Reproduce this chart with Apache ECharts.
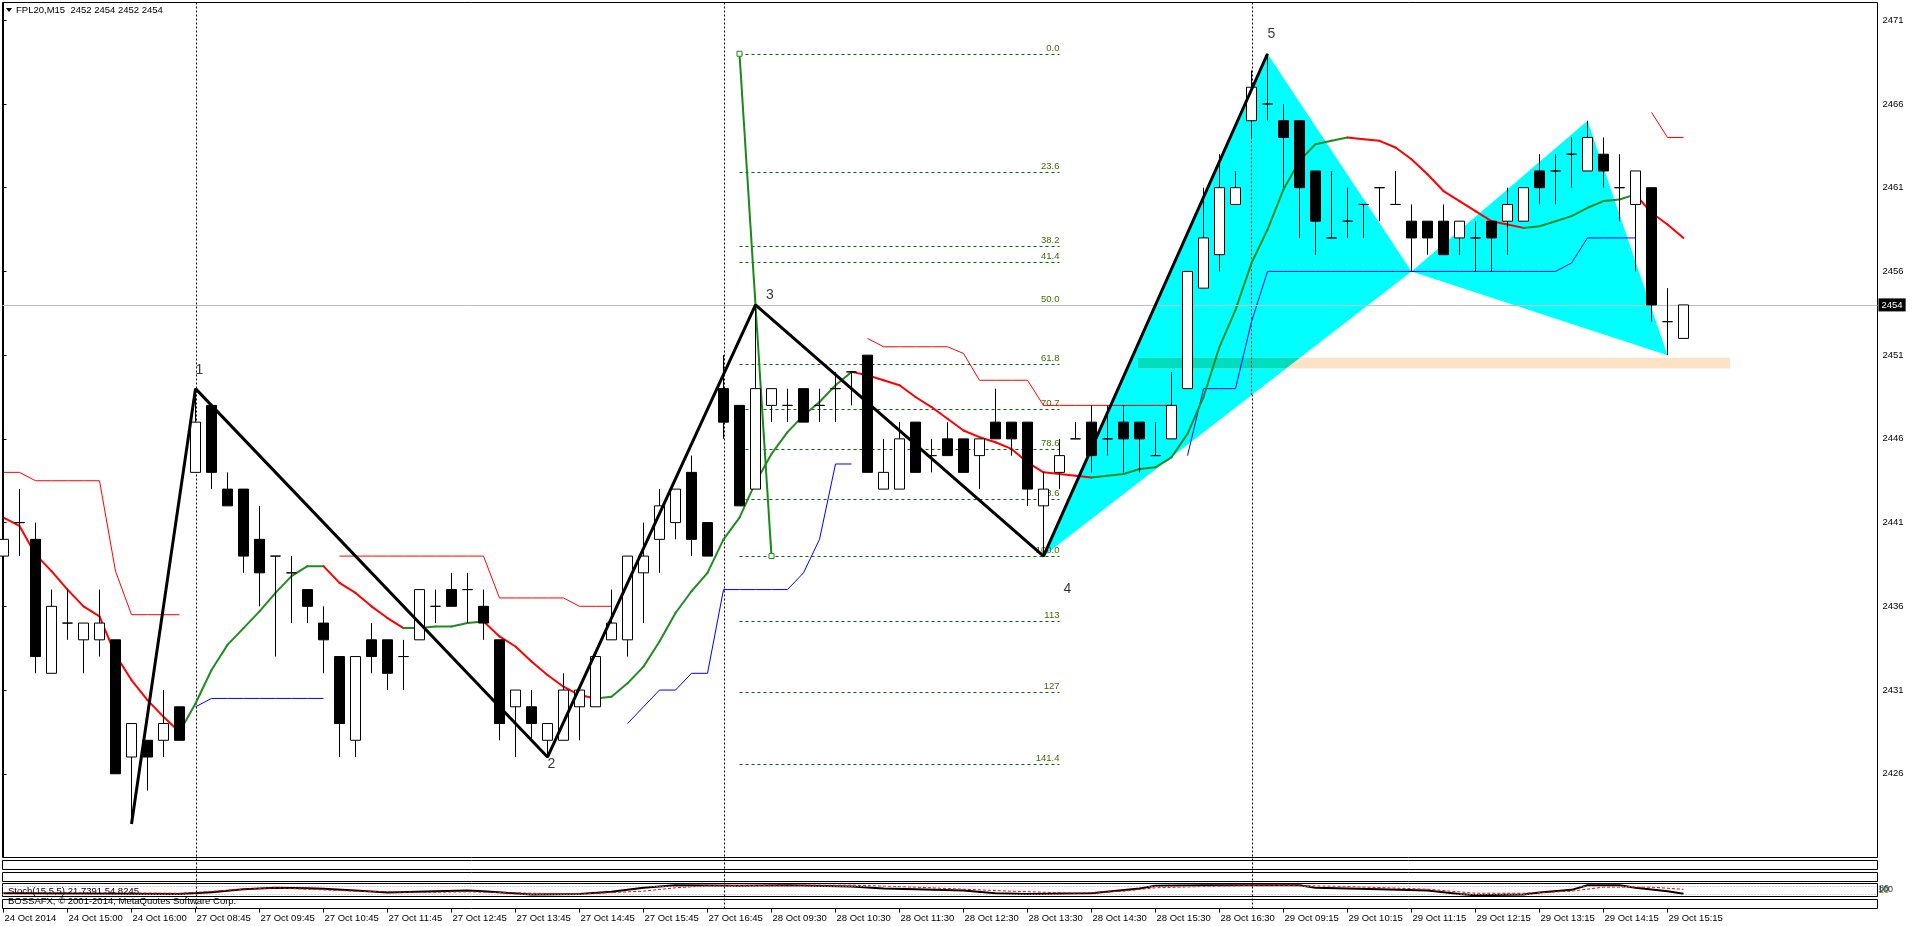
<!DOCTYPE html>
<html>
<head>
<meta charset="utf-8">
<title>FPL20,M15</title>
<script src="https://cdn.jsdelivr.net/npm/echarts@6/dist/echarts.min.js"></script>
<style>
  html, body { margin: 0; padding: 0; background: #fff; }
  #chart { width: 1916px; height: 926px; }
</style>
</head>
<body>
<div id="chart"></div>
<script>
// one entry per M15 bar, bar index = position in the array
var opens = [
  2439, 2441, 2440, 2432, 2435, 2434, 2434, 2434, 2427, 2428,
  2428, 2430, 2444, 2448, 2443, 2443, 2440, 2439, 2438, 2437,
  2435, 2433, 2428, 2434, 2434, 2433, 2434, 2436, 2437, 2437,
  2436, 2434, 2430, 2430, 2428, 2428, 2430, 2430, 2434, 2434,
  2438, 2440, 2441, 2444, 2441, 2449, 2448, 2443, 2448, 2448,
  2449, 2448, 2449, 2450, 2451, 2443, 2443, 2447, 2445, 2446,
  2446, 2445, 2447, 2447, 2447, 2442, 2444, 2446, 2447, 2446,
  2447, 2447, 2445, 2446, 2449, 2455, 2457, 2460, 2465, 2466,
  2465, 2465, 2462, 2458, 2459, 2460, 2461, 2460, 2459, 2459,
  2459, 2458, 2458, 2459, 2459, 2459, 2462, 2462, 2463, 2462,
  2463, 2461, 2460, 2461, 2453, 2452
];
var highs = [
  2443, 2443, 2441, 2437, 2437, 2435, 2437, 2434, 2429, 2428,
  2431, 2430, 2449, 2448, 2444, 2443, 2442, 2439, 2439, 2437,
  2436, 2433, 2433, 2435, 2434, 2434, 2437, 2437, 2438, 2438,
  2437, 2434, 2431, 2431, 2429, 2432, 2431, 2433, 2437, 2439,
  2441, 2443, 2443, 2445, 2441, 2451, 2448, 2454, 2449, 2449,
  2449, 2449, 2450, 2450, 2451, 2446, 2447, 2447, 2446, 2447,
  2446, 2446, 2449, 2447, 2447, 2444, 2446, 2447, 2448, 2448,
  2448, 2447, 2447, 2450, 2456, 2461, 2463, 2462, 2468, 2469,
  2466, 2465, 2462, 2462, 2461, 2460, 2461, 2462, 2460, 2459,
  2460, 2459, 2459, 2459, 2461, 2461, 2463, 2463, 2464, 2465,
  2464, 2463, 2462, 2461, 2455, 2454
];
var lows = [
  2438, 2439, 2432, 2432, 2434, 2432, 2433, 2426, 2423, 2425,
  2427, 2428, 2444, 2443, 2442, 2438, 2436, 2433, 2435, 2435,
  2432, 2427, 2427, 2432, 2431, 2431, 2434, 2435, 2436, 2435,
  2434, 2428, 2427, 2428, 2427, 2428, 2428, 2430, 2434, 2433,
  2435, 2438, 2440, 2439, 2439, 2446, 2442, 2443, 2447, 2447,
  2447, 2447, 2447, 2448, 2444, 2443, 2443, 2444, 2444, 2445,
  2444, 2443, 2446, 2445, 2442, 2439, 2443, 2446, 2444, 2445,
  2444, 2444, 2445, 2446, 2449, 2455, 2456, 2460, 2464, 2465,
  2461, 2458, 2457, 2458, 2458, 2458, 2459, 2460, 2456, 2457,
  2457, 2457, 2456, 2456, 2457, 2459, 2460, 2460, 2461, 2462,
  2461, 2459, 2456, 2453, 2451, 2452
];
var closes = [
  2440, 2441, 2433, 2436, 2435, 2435, 2435, 2426, 2429, 2427,
  2429, 2428, 2447, 2444, 2442, 2439, 2438, 2439, 2438, 2436,
  2434, 2429, 2433, 2433, 2432, 2433, 2437, 2436, 2436, 2437,
  2435, 2429, 2431, 2429, 2429, 2431, 2431, 2433, 2435, 2439,
  2439, 2442, 2443, 2440, 2439, 2447, 2442, 2449, 2449, 2448,
  2447, 2448, 2449, 2450, 2444, 2444, 2446, 2444, 2445, 2445,
  2444, 2446, 2446, 2446, 2443, 2443, 2445, 2446, 2445, 2446,
  2446, 2446, 2445, 2448, 2456, 2458, 2461, 2461, 2467, 2466,
  2464, 2461, 2459, 2458, 2459, 2460, 2461, 2460, 2458, 2458,
  2457, 2459, 2458, 2458, 2460, 2461, 2461, 2462, 2463, 2464,
  2462, 2461, 2462, 2454, 2453, 2454
];

// thick moving average, green while rising, red while falling
var maLine = [
  2441.3, 2440.8, 2439.1, 2438.1, 2437.0, 2436.0, 2435.4, 2433.1, 2431.6, 2430.4,
  2429.4, 2428.5, 2430.2, 2432.2, 2433.7, 2434.7, 2435.7, 2436.8, 2437.8, 2438.4,
  2438.4, 2437.4, 2436.8, 2436.0, 2435.3, 2434.7, 2434.7, 2434.8, 2434.8, 2435.0,
  2435.1, 2434.2, 2433.6, 2432.7, 2431.9, 2431.2, 2430.7, 2430.5, 2430.6, 2431.4,
  2432.4, 2433.9, 2435.6, 2436.9, 2438.0, 2440.0, 2441.3, 2443.4, 2445.1, 2446.4,
  2447.4, 2448.2, 2449.2, 2450.0, 2449.8, 2449.5, 2449.2, 2448.5, 2447.9, 2447.2,
  2446.5, 2446.1, 2445.8, 2445.4, 2444.6, 2444.0, 2443.9, 2443.8, 2443.7, 2443.8,
  2443.9, 2444.2, 2444.3, 2444.9, 2446.3, 2448.5, 2451.5, 2453.7, 2456.5, 2458.5,
  2460.9, 2462.6, 2463.6, 2463.8, 2464.0, 2463.9, 2463.8, 2463.4, 2462.7, 2461.8,
  2460.8, 2460.2, 2459.6, 2459.0, 2458.8, 2458.6, 2458.7, 2459.0, 2459.3, 2459.8,
  2460.2, 2460.3, 2460.6, 2459.5, 2458.8, 2458.0
];

// thin stepped red (upper) and blue (lower) lines, null = not drawn
var upperStep = [
  2444, 2444, 2443.5, 2443.5, 2443.5, 2443.5, 2443.5, 2438.1, 2435.5, 2435.5,
  2435.5, 2435.5, null, null, null, null, null, null, null, null,
  null, 2439, 2439, 2439, 2439, 2439, 2439, 2439, 2439, 2439,
  2439, 2436.5, 2436.5, 2436.5, 2436.5, 2436.5, 2436, 2436, 2436, null,
  null, null, null, null, null, null, null, null, null, null,
  null, null, null, null, 2452, 2451.5, 2451.5, 2451.5, 2451.5, 2451.5,
  2451.1, 2449.5, 2449.5, 2449.5, 2449.5, 2448, 2448, 2448, 2448, 2448,
  2448, 2448, 2448, 2448, null, null, null, null, null, null,
  null, null, null, null, null, null, null, null, null, null,
  null, null, null, null, null, null, null, null, null, null,
  null, null, null, 2465.5, 2464, 2464
];
var lowerStep = [
  null, null, null, null, null, null, null, null, null, null,
  null, null, 2430, 2430.5, 2430.5, 2430.5, 2430.5, 2430.5, 2430.5, 2430.5,
  2430.5, null, null, null, null, null, null, null, null, null,
  null, null, null, null, null, null, null, null, null, 2429,
  2430, 2431, 2431, 2432, 2432, 2437, 2437, 2437, 2437, 2437,
  2438, 2440, 2444.5, 2444.5, null, null, null, null, null, null,
  null, null, null, null, null, null, null, null, null, null,
  null, null, null, null, 2445, 2449, 2449, 2449, 2453, 2456,
  2456, 2456, 2456, 2456, 2456, 2456, 2456, 2456, 2456, 2456,
  2456, 2456, 2456, 2456, 2456, 2456, 2456, 2456, 2456.5, 2458,
  2458, 2458, 2458, null, null, null
];

var zigzag = [[8, 2423], [12, 2449], [34, 2427], [47, 2454], [65, 2439], [79, 2469]];
var waveLabels = [['1', 12.25, 2450.1], ['2', 34.25, 2426.6], ['3', 47.9, 2454.6], ['4', 66.5, 2437.0], ['5', 79.25, 2470.2]];

// fibonacci tool: anchors [bar, price], levels drawn up to fibEndBar
var fibFrom = [46, 2469];
var fibTo = [48, 2439];
var fibEndBar = 66;
var fibRatios = [0, 23.6, 38.2, 41.4, 50, 61.8, 70.7, 78.6, 88.6, 100, 113, 127, 141.4];
var fibTexts = ['0.0', '23.6', '38.2', '41.4', '50.0', '61.8', '70.7', '78.6', '88.6', '100.0', '113', '127', '141.4'];

// cyan pattern: each triangle is bar,price x3
var patternTriangles = [[65, 2439, 79, 2469, 88, 2456], [88, 2456, 99, 2465, 104, 2451]];
var zoneBox = [70.9, 107.9, 2450.2, 2450.85];

var separatorBars = [12, 45, 78];
var bidPrice = 2454;

var timeLabels = ['24 Oct 2014', '24 Oct 15:00', '24 Oct 16:00', '27 Oct 08:45', '27 Oct 09:45', '27 Oct 10:45',
  '27 Oct 11:45', '27 Oct 12:45', '27 Oct 13:45', '27 Oct 14:45', '27 Oct 15:45', '27 Oct 16:45',
  '28 Oct 09:30', '28 Oct 10:30', '28 Oct 11:30', '28 Oct 12:30', '28 Oct 13:30', '28 Oct 14:30',
  '28 Oct 15:30', '28 Oct 16:30', '29 Oct 09:15', '29 Oct 10:15', '29 Oct 11:15', '29 Oct 12:15',
  '29 Oct 13:15', '29 Oct 14:15', '29 Oct 15:15'];

// stochastic sub window, [bar, value]
var stochMain = [[0, 25], [11, 20], [13, 33], [15, 56], [17, 67], [19, 64], [20, 60], [22, 46], [24, 31], [27, 40],
  [29, 46], [30, 41], [33, 15], [36, 20], [38, 36], [40, 67], [42, 87], [46, 82], [49, 87], [53, 77],
  [55, 62], [57, 56], [60, 46], [62, 25], [64, 20], [68, 25], [71, 62], [72, 82], [75, 87], [81, 87],
  [82, 67], [86, 56], [89, 46], [91, 20], [92, 10], [95, 15], [96, 31], [98, 51], [99, 87], [101, 87],
  [102, 67], [104, 41], [105, 22]];
var stochSignal = [[0, 31], [11, 25], [12, 31], [15, 56], [17, 67], [20, 51], [22, 41], [26, 31], [29, 36], [33, 25],
  [36, 20], [40, 41], [42, 67], [44, 82], [49, 87], [53, 87], [57, 72], [60, 56], [63, 41], [67, 25],
  [70, 41], [72, 67], [75, 77], [79, 87], [84, 77], [89, 56], [92, 25], [95, 25], [98, 41], [100, 72],
  [103, 72], [105, 55]];

var FONT = '"Liberation Sans", Arial, sans-serif';
var XMIN = -0.0625, XMAX = 117.125;

function edgeX(t, a, b, p) {
  // bar where edge a-b of triangle t reaches price p
  return t[2 * a] + (t[2 * b] - t[2 * a]) * (p - t[2 * a + 1]) / (t[2 * b + 1] - t[2 * a + 1]);
}
function edgeY(t, a, b, x) {
  return t[2 * a + 1] + (t[2 * b + 1] - t[2 * a + 1]) * (x - t[2 * a]) / (t[2 * b] - t[2 * a]);
}

var chart = echarts.init(document.getElementById('chart'));

var panel = function (top, height) {
  return { left: 2.5, right: 38.5, top: top, height: height, show: true, borderColor: '#000', borderWidth: 1,
    backgroundColor: 'transparent', outerBoundsMode: 'none' };
};
var hiddenX = function (g) { return { type: 'value', gridIndex: g, min: XMIN, max: XMAX, show: false }; };
var hiddenY = function (g, mn, mx) { return { type: 'value', gridIndex: g, min: mn, max: mx, show: false }; };

var tri1 = patternTriangles[0];

var option = {
  animation: false,
  backgroundColor: '#fff',
  grid: [
    panel(2.5, 855),
    panel(860.5, 9),
    panel(872.5, 9),
    panel(883.5, 13),
    panel(899.5, 9),
    { left: 3.5, width: 1664, top: 899.5, height: 9, show: false, outerBoundsMode: 'none' },
    { left: 2.5, right: 38.5, top: 2.5, height: 906, show: false, outerBoundsMode: 'none' }
  ],
  xAxis: [
    hiddenX(0), hiddenX(1), hiddenX(2), hiddenX(3), hiddenX(4),
    {
      type: 'value', gridIndex: 5, min: 0, max: 104, interval: 4,
      axisLine: { show: false },
      splitLine: { show: false },
      axisTick: { show: true, length: 4, lineStyle: { color: '#000' } },
      axisLabel: {
        color: '#000', fontSize: 9.5, fontFamily: 'Liberation Sans', align: 'left', margin: 5,
        padding: [0, 0, 0, 1],
        formatter: function (v) { return timeLabels[Math.round(v / 4)] || ''; }
      }
    },
    hiddenX(6)
  ],
  yAxis: [
    {
      type: 'value', gridIndex: 0, position: 'right', min: 2421, max: 2472.06, interval: 5,
      splitLine: { show: false },
      axisLine: { show: true, lineStyle: { color: '#000' } },
      axisTick: { show: true, length: 3, lineStyle: { color: '#000' } },
      axisLabel: {
        color: '#000', fontSize: 9.5, fontFamily: 'Liberation Sans', margin: 5,
        formatter: function (v) {
          if (Math.abs(v - Math.round(v)) > 0.01 || v < 2425) return '';
          return String(Math.round(v));
        }
      }
    },
    hiddenY(1, 0, 1), hiddenY(2, 0, 1), hiddenY(3, 0, 100), hiddenY(4, 0, 1), hiddenY(5, 0, 1), hiddenY(6, 0, 1)
  ],
  graphic: [
    { type: 'polygon', z: 10, shape: { points: [[6, 8], [12, 8], [9, 12]] }, style: { fill: '#000' } },
    { type: 'text', z: 10, left: 16, top: 5, style: { text: 'FPL20,M15  2452 2454 2452 2454', font: '9.5px ' + FONT, fill: '#000' } },
    { type: 'text', z: 10, left: 8, top: 886, style: { text: 'Stoch(15,5,5) 21.7391 54.8245', font: '9.5px ' + FONT, fill: '#000' } },
    { type: 'text', z: 10, left: 8, top: 896, style: { text: 'BOSSAFX, \u00a9 2001-2014, MetaQuotes Software Corp.', font: '9.5px ' + FONT, fill: '#000' } },
    { type: 'text', z: 10, left: 1879, top: 884, style: { text: '80', font: '9px ' + FONT, fill: '#1a4fb0' } },
    { type: 'text', z: 10, left: 1879, top: 886, style: { text: '20', font: '9px ' + FONT, fill: '#7a7a00' } },
    { type: 'text', z: 10, left: 1878, top: 885, style: { text: '100', font: '9px ' + FONT, fill: '#333' } }
  ],
  series: [
    {
      // day separators across every window
      type: 'custom', xAxisIndex: 6, yAxisIndex: 6, z: 1, silent: true,
      data: separatorBars.map(function (b) { return [b, 0]; }),
      renderItem: function (params, api) {
        var top = api.coord([api.value(0), 1]);
        var bot = api.coord([api.value(0), 0]);
        var x = Math.round(top[0]) + 0.5;
        return { type: 'line', shape: { x1: x, y1: top[1], x2: x, y2: bot[1] },
          style: { stroke: '#000', lineWidth: 1, lineDash: [2, 2] } };
      }
    },
    {
      type: 'custom', xAxisIndex: 0, yAxisIndex: 0, z: 2, silent: true,
      data: patternTriangles,
      renderItem: function (params, api) {
        var pts = [];
        for (var k = 0; k < 3; k++) pts.push(api.coord([api.value(2 * k), api.value(2 * k + 1)]));
        return { type: 'polygon', shape: { points: pts }, style: { fill: '#00ffff' } };
      }
    },
    {
      type: 'custom', xAxisIndex: 0, yAxisIndex: 0, z: 3, silent: true,
      data: [zoneBox],
      renderItem: function (params, api) {
        var x0 = api.value(0), x1 = api.value(1), lo = api.value(2), hi = api.value(3);
        var tl = api.coord([x0, hi]), br = api.coord([x1, lo]);
        // part of the box under the first cyan triangle shows teal
        var pts = [api.coord([x0, hi]), api.coord([edgeX(tri1, 0, 2, hi), hi]),
          api.coord([edgeX(tri1, 0, 2, lo), lo]), api.coord([x0, lo])];
        return { type: 'group', children: [
          { type: 'rect', shape: { x: tl[0], y: tl[1], width: br[0] - tl[0], height: br[1] - tl[1] }, style: { fill: '#fde3c6' } },
          { type: 'polygon', shape: { points: pts }, style: { fill: '#00dcbe' } }
        ] };
      }
    },
    {
      // separator turns red where it runs over the cyan pattern
      type: 'line', xAxisIndex: 0, yAxisIndex: 0, z: 3, silent: true, symbol: 'none',
      data: [[78, edgeY(tri1, 0, 2, 78)], [78, edgeY(tri1, 0, 1, 78)]],
      lineStyle: { color: '#ff0000', width: 1, type: [2, 2] }
    },
    {
      type: 'custom', xAxisIndex: 0, yAxisIndex: 0, z: 3, silent: true,
      data: fibRatios.map(function (r, i) { return [i, 0]; }),
      renderItem: function (params, api) {
        var i = api.value(0);
        var price = fibFrom[1] + (fibTo[1] - fibFrom[1]) * fibRatios[i] / 100;
        var a = api.coord([fibFrom[0], price]);
        var b = api.coord([fibEndBar, price]);
        var y = Math.round(a[1]) + 0.5;
        return { type: 'group', children: [
          { type: 'line', shape: { x1: a[0], y1: y, x2: b[0], y2: y }, style: { stroke: '#006400', lineWidth: 1, lineDash: [3, 3] } },
          { type: 'text', x: b[0], y: y - 1, style: { text: fibTexts[i], fill: '#3d6b00', font: '9.5px ' + FONT, align: 'right', verticalAlign: 'bottom' } }
        ] };
      }
    },
    {
      type: 'line', xAxisIndex: 0, yAxisIndex: 0, z: 3, silent: true, symbol: 'none',
      data: upperStep.map(function (v, i) { return [i, v]; }),
      lineStyle: { color: '#ff0000', width: 1 },
      markLine: {
        silent: true, symbol: 'none',
        data: [{ yAxis: bidPrice }],
        lineStyle: { color: '#c0c0c0', width: 1, type: 'solid' },
        label: { show: true, position: 'end', distance: 1, formatter: String(bidPrice), color: '#fff',
          backgroundColor: '#000', padding: [2, 3, 1, 3], fontSize: 9.5, fontFamily: 'Liberation Sans' }
      }
    },
    {
      type: 'line', xAxisIndex: 0, yAxisIndex: 0, z: 3, silent: true, symbol: 'none',
      data: lowerStep.map(function (v, i) { return [i, v]; }),
      lineStyle: { color: '#0000ff', width: 1 }
    },
    {
      type: 'custom', xAxisIndex: 0, yAxisIndex: 0, z: 4, silent: true,
      data: maLine.slice(1).map(function (v, i) { return [i, maLine[i], v]; }),
      renderItem: function (params, api) {
        var i = api.value(0), v0 = api.value(1), v1 = api.value(2);
        var p0 = api.coord([i, v0]), p1 = api.coord([i + 1, v1]);
        return { type: 'line', shape: { x1: p0[0], y1: p0[1], x2: p1[0], y2: p1[1] },
          style: { stroke: v1 >= v0 ? '#228b22' : '#ff0000', lineWidth: 2, lineCap: 'round' } };
      }
    },
    {
      type: 'line', xAxisIndex: 0, yAxisIndex: 0, z: 4, silent: true,
      data: [fibFrom, fibTo],
      symbol: 'rect', symbolSize: 5, showSymbol: true,
      lineStyle: { color: '#178a17', width: 2 },
      itemStyle: { color: '#fff', borderColor: '#178a17', borderWidth: 1 }
    },
    {
      type: 'candlestick', xAxisIndex: 0, yAxisIndex: 0, z: 5, silent: true,
      barWidth: 10,
      data: opens.map(function (o, i) { return [i, o, closes[i], lows[i], highs[i]]; }),
      itemStyle: { color: '#fff', color0: '#000', borderColor: '#000', borderColor0: '#000', borderWidth: 1 }
    },
    {
      type: 'line', xAxisIndex: 0, yAxisIndex: 0, z: 6, silent: true, symbol: 'none',
      data: zigzag,
      lineStyle: { color: '#000', width: 3 }
    },
    {
      type: 'scatter', xAxisIndex: 0, yAxisIndex: 0, z: 7, silent: true, symbolSize: 0,
      data: waveLabels.map(function (w) { return { name: w[0], value: [w[1], w[2]] }; }),
      label: { show: true, position: 'inside', formatter: '{b}', color: '#000', fontSize: 14, fontFamily: 'Liberation Sans' }
    },
    {
      type: 'line', xAxisIndex: 3, yAxisIndex: 3, z: 4, silent: true, symbol: 'none',
      data: stochMain,
      lineStyle: { color: '#000', width: 2 },
      markLine: {
        silent: true, symbol: 'none', label: { show: false },
        data: [{ yAxis: 20 }, { yAxis: 80 }],
        lineStyle: { color: '#b0b0b0', width: 1, type: [1, 2] }
      }
    },
    {
      type: 'line', xAxisIndex: 3, yAxisIndex: 3, z: 4, silent: true, symbol: 'none',
      data: stochSignal,
      lineStyle: { color: '#ff0000', width: 1, type: [3, 2] }
    }
  ]
};

chart.setOption(option);
</script>
</body>
</html>
